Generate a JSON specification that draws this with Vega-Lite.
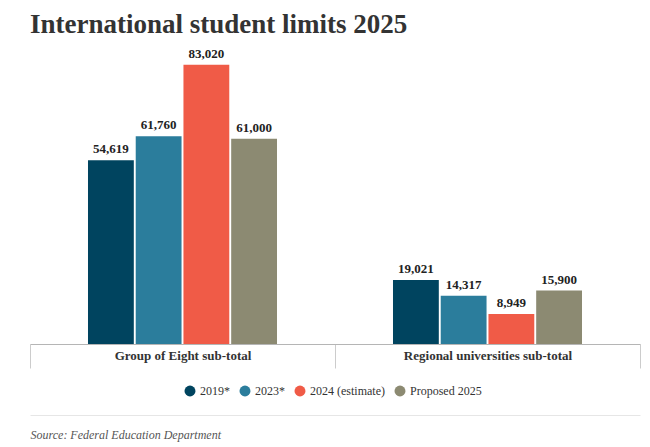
{
  "$schema": "https://vega.github.io/schema/vega-lite/v6.json",
  "width": 610,
  "height": 286,
  "autosize": "none",
  "padding": {"left": 30, "top": 58, "right": 10, "bottom": 103},
  "background": "white",
  "config": {"view": {"stroke": null}},
  "title": {
    "text": "International student limits 2025",
    "anchor": "start",
    "frame": "group",
    "font": "Liberation Serif",
    "fontSize": 27,
    "fontWeight": "bold",
    "color": "#333333",
    "baseline": "top",
    "offset": 0,
    "dy": -9
  },
  "data": {
    "values": [
      {"group": "Group of Eight sub-total", "year": "2019*", "value": 54619},
      {"group": "Group of Eight sub-total", "year": "2023*", "value": 61760},
      {"group": "Group of Eight sub-total", "year": "2024 (estimate)", "value": 83020},
      {"group": "Group of Eight sub-total", "year": "Proposed 2025", "value": 61000},
      {"group": "Regional universities sub-total", "year": "2019*", "value": 19021},
      {"group": "Regional universities sub-total", "year": "2023*", "value": 14317},
      {"group": "Regional universities sub-total", "year": "2024 (estimate)", "value": 8949},
      {"group": "Regional universities sub-total", "year": "Proposed 2025", "value": 15900}
    ]
  },
  "resolve": {"axis": {"x": "independent"}},
  "layer": [
    {
      "mark": {"type": "bar"},
      "encoding": {
        "x": {
          "field": "group", "type": "nominal", "sort": null,
          "scale": {"paddingInner": 0, "paddingOuter": 0},
          "axis": {
            "orient": "bottom",
            "title": null,
            "domainColor": "#b5b5b5",
            "tickColor": "#cccccc",
            "tickSize": 24,
            "tickBand": "extent",
            "labelFont": "Liberation Serif",
            "labelFontSize": 13,
            "labelFontWeight": "bold",
            "labelColor": "#333333",
            "labelPadding": -19,
            "labelAngle": 0
          }
        },
        "xOffset": {
          "field": "year", "type": "nominal", "sort": null,
          "scale": {
            "domain": [" ", "2019*", "2023*", "2024 (estimate)", "Proposed 2025", "  "],
            "paddingInner": 0.04, "paddingOuter": 0.215
          }
        },
        "y": {
          "field": "value", "type": "quantitative",
          "scale": {"domain": [0, 85000], "nice": false},
          "axis": null
        },
        "color": {
          "field": "year", "type": "nominal", "sort": null,
          "scale": {
            "domain": ["2019*", "2023*", "2024 (estimate)", "Proposed 2025"],
            "range": ["#00445f", "#2b7d9c", "#f05b47", "#8c8a72"]
          },
          "legend": {
            "title": null,
            "orient": "none",
            "legendX": 154,
            "legendY": 327,
            "direction": "horizontal",
            "symbolType": "circle",
            "symbolSize": 120,
            "symbolStrokeWidth": 0,
            "labelFont": "Liberation Serif",
            "labelFontSize": 12,
            "labelColor": "#333333",
            "columnPadding": 9
          }
        }
      }
    },
    {
      "mark": {
        "type": "text", "baseline": "bottom", "dy": -4,
        "font": "Liberation Serif", "fontSize": 13, "fontWeight": "bold", "color": "#222222"
      },
      "encoding": {
        "x": {"field": "group", "type": "nominal", "sort": null, "axis": null},
        "xOffset": {"field": "year", "type": "nominal", "sort": null},
        "y": {"field": "value", "type": "quantitative"},
        "text": {"field": "value", "type": "quantitative", "format": ","}
      }
    },
    {
      "mark": {"type": "bar", "opacity": 0},
      "encoding": {
        "x": {
          "field": "group", "type": "nominal", "sort": null,
          "axis": {
            "orient": "bottom",
            "offset": 71,
            "labels": false,
            "ticks": false,
            "domainColor": "#e6e6e6",
            "title": "Source: Federal Education Department",
            "titleFont": "Liberation Serif",
            "titleFontStyle": "italic",
            "titleFontWeight": "normal",
            "titleFontSize": 12,
            "titleColor": "#555555",
            "titleAnchor": "start",
            "titleAlign": "left",
            "titleBaseline": "alphabetic",
            "titleX": 0,
            "titleY": 23
          }
        },
        "xOffset": {"field": "year", "type": "nominal", "sort": null},
        "y": {"field": "value", "type": "quantitative"}
      }
    }
  ]
}
